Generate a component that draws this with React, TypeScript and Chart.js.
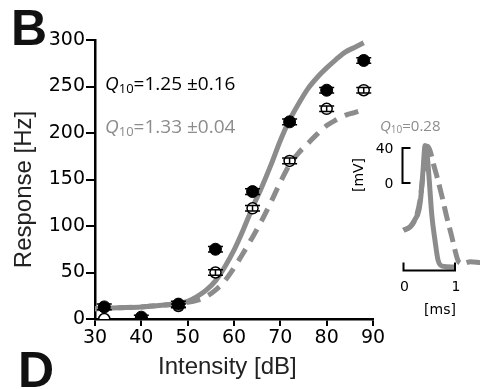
import React, { useEffect, useRef } from "react";
import { Chart, registerables } from "chart.js";

Chart.register(...registerables);

// ---- Main panel data ----
const intensity = [32, 40, 48, 56, 64, 72, 80, 88];
const filledResp = [13, 2, 16, 75, 137, 212, 246, 278];
const filledErr = [3, 2, 3, 3, 3, 3, 3, 3];
const openResp = [0, 0, 14, 50, 119, 170, 226, 246];
const openErr = [2, 2, 2, 3, 3, 3, 3, 3];

const fitX = [30, 35, 40, 45, 48, 50, 52, 54, 56, 58, 60, 62, 64, 66, 68, 70, 72, 74, 76, 78, 80, 82, 84, 86, 88];
const fitSolid = [11, 12, 13, 15, 17, 19, 24, 31, 41, 56, 74, 96, 120, 142, 166, 192, 214, 232, 248, 260, 270, 279, 287, 292, 297];
const fitDashed = [11, 12, 13, 15, 16, 18, 20, 24, 31, 41, 55, 71, 88, 106, 126, 147, 166, 179, 189, 199, 208, 214, 219, 222, 225];

const xTicks = [30, 40, 50, 60, 70, 80, 90];
const yTicks = [0, 50, 100, 150, 200, 250, 300];

const q10Filled = "=1.25 \u00B10.16";
const q10Open = "=1.33 \u00B10.04";
const q10Spike = "=0.28";

// ---- Inset (spike waveform) data ----
const spikeSolidT = [0, 0.13, 0.22, 0.3, 0.34, 0.38, 0.42, 0.45, 0.5, 0.55, 0.61, 0.67, 0.75, 0.98];
const spikeSolidV = [-54, -50, -42, -31, -14, 15, 43, 38, 3, -37, -65, -88, -95, -96];
const spikeDashedT = [0, 0.15, 0.25, 0.32, 0.38, 0.43, 0.47, 0.52, 0.58, 0.66, 0.75, 0.84, 0.94, 1.0, 1.07, 1.15, 1.3, 1.49];
const spikeDashedV = [-54, -49, -38, -20, 10, 38, 42, 36, 22, 5, -16, -39, -62, -77, -90, -92, -90, -91];
const insetVoltTicks = [0, 40];
const insetTimeTicks = [0, 1];

const GRAY = "#8c8c8c";

function drawQ(ctx: CanvasRenderingContext2D, x: number, y: number, rest: string, size: number, color: string) {
  ctx.save();
  ctx.fillStyle = color;
  ctx.textAlign = "left";
  ctx.textBaseline = "alphabetic";
  ctx.font = `italic ${size}px "Open Sans"`;
  ctx.fillText("Q", x, y);
  x += ctx.measureText("Q").width;
  const sub = Math.round(size * 0.66);
  ctx.font = `${sub}px "Open Sans"`;
  ctx.fillText("10", x, y + size * 0.14);
  x += ctx.measureText("10").width;
  ctx.font = `${size}px "Open Sans"`;
  ctx.fillText(rest, x, y);
  ctx.restore();
}

const mainPlugin = {
  id: "mainDecor",
  afterDatasetsDraw(chart: any) {
    const ctx: CanvasRenderingContext2D = chart.ctx;
    const xs = chart.scales.x;
    const ys = chart.scales.y;
    ctx.save();
    ctx.strokeStyle = "#000";
    ctx.lineWidth = 1.5;
    const bars = (vals: number[], errs: number[]) => {
      intensity.forEach((xv, i) => {
        const px = xs.getPixelForValue(xv);
        const y1 = ys.getPixelForValue(vals[i] - errs[i]);
        const y2 = ys.getPixelForValue(vals[i] + errs[i]);
        if (y1 > chart.chartArea.bottom) return;
        ctx.beginPath();
        ctx.moveTo(px, y1);
        ctx.lineTo(px, y2);
        ctx.moveTo(px - 7.5, y1);
        ctx.lineTo(px + 7.5, y1);
        ctx.moveTo(px - 7.5, y2);
        ctx.lineTo(px + 7.5, y2);
        ctx.stroke();
      });
    };
    bars(filledResp, filledErr);
    bars(openResp, openErr);
    ctx.restore();
  },
  afterDraw(chart: any) {
    const ctx: CanvasRenderingContext2D = chart.ctx;
    ctx.save();
    ctx.fillStyle = "#111";
    ctx.font = 'bold 50px "Liberation Sans"';
    ctx.textBaseline = "alphabetic";
    ctx.textAlign = "left";
    ctx.fillText("B", 11, 45);
    ctx.fillText("D", 18, 387);
    ctx.restore();
    drawQ(ctx, 105, 90, q10Filled, 19, "#000");
    drawQ(ctx, 105, 133, q10Open, 19, GRAY);
  },
};

const insetPlugin = {
  id: "insetDecor",
  afterDraw(chart: any) {
    const ctx: CanvasRenderingContext2D = chart.ctx;
    const xs = chart.scales.x;
    const ys = chart.scales.y;
    ctx.save();
    ctx.strokeStyle = "#000";
    ctx.lineWidth = 2;
    // voltage scale bar
    const bx = xs.getPixelForValue(0) - 1;
    const vTop = ys.getPixelForValue(insetVoltTicks[1]);
    const vBot = ys.getPixelForValue(insetVoltTicks[0]);
    ctx.beginPath();
    ctx.moveTo(bx + 8, vTop);
    ctx.lineTo(bx, vTop);
    ctx.lineTo(bx, vBot);
    ctx.lineTo(bx + 8, vBot);
    ctx.stroke();
    // time scale bar
    const by = ys.getPixelForValue(ys.min);
    const t0 = xs.getPixelForValue(insetTimeTicks[0]);
    const t1 = xs.getPixelForValue(insetTimeTicks[1]);
    ctx.beginPath();
    ctx.moveTo(t0, by - 8);
    ctx.lineTo(t0, by);
    ctx.lineTo(t1, by);
    ctx.lineTo(t1, by - 8);
    ctx.stroke();
    // labels
    ctx.fillStyle = "#000";
    ctx.font = '14px "DejaVu Sans"';
    ctx.textBaseline = "middle";
    ctx.textAlign = "right";
    insetVoltTicks.forEach((v) => ctx.fillText(String(v), bx - 9, ys.getPixelForValue(v) + 1));
    ctx.textAlign = "center";
    insetTimeTicks.forEach((t) => ctx.fillText(String(t), xs.getPixelForValue(t) + 1, by + 17));
    ctx.fillText("[ms]", 90, 200);
    ctx.save();
    ctx.translate(9, 65);
    ctx.rotate(-Math.PI / 2);
    ctx.fillText("[mV]", 0, 0);
    ctx.restore();
    ctx.restore();
    drawQ(ctx, 30, 21, q10Spike, 15, GRAY);
  },
};

export default function App() {
  const mainRef = useRef<HTMLCanvasElement>(null);
  const insetRef = useRef<HTMLCanvasElement>(null);

  useEffect(() => {
    document.body.style.margin = "0";
    const tickFont = { family: "DejaVu Sans", size: 19 };
    const titleFont = { family: "Liberation Sans", size: 24 };
    const main = new Chart(mainRef.current as HTMLCanvasElement, {
      type: "scatter",
      data: {
        datasets: [
          {
            label: "filled",
            data: intensity.map((x, i) => ({ x, y: filledResp[i] })),
            pointRadius: 6,
            pointBackgroundColor: "#000",
            pointBorderColor: "#000",
            pointBorderWidth: 1,
            order: 0,
          },
          {
            label: "open",
            data: intensity.map((x, i) => ({ x, y: openResp[i] })),
            pointRadius: 5.5,
            pointBackgroundColor: "#fff",
            pointBorderColor: "#000",
            pointBorderWidth: 1.5,
            order: 1,
          },
          {
            label: "fit solid",
            data: fitX.map((x, i) => ({ x, y: fitSolid[i] })),
            showLine: true,
            pointRadius: 0,
            borderColor: GRAY,
            borderWidth: 5,
            cubicInterpolationMode: "monotone",
            order: 2,
          },
          {
            label: "fit dashed",
            data: fitX.map((x, i) => ({ x, y: fitDashed[i] })),
            showLine: true,
            pointRadius: 0,
            borderColor: GRAY,
            borderWidth: 5,
            borderDash: [14, 9],
            cubicInterpolationMode: "monotone",
            order: 3,
          },
        ],
      },
      options: {
        responsive: false,
        animation: false,
        layout: { padding: { left: 0, top: 40, right: 107, bottom: 0 } },
        plugins: { legend: { display: false }, tooltip: { enabled: false } },
        scales: {
          x: {
            type: "linear",
            min: 30,
            max: 90,
            afterBuildTicks: (s: any) => {
              s.ticks = xTicks.map((v) => ({ value: v }));
            },
            afterFit: (s: any) => {
              s.height = 70;
            },
            grid: { display: true, drawOnChartArea: false, drawTicks: true, tickLength: 7, color: "#000", lineWidth: 2 },
            border: { display: true, color: "#000", width: 2.5 },
            ticks: { color: "#000", font: tickFont, padding: 1, maxRotation: 0, autoSkip: false },
            title: { display: true, text: "Intensity [dB]  ", color: "#222", font: titleFont, padding: { top: 0, bottom: 7 } },
          },
          y: {
            type: "linear",
            min: 0,
            max: 300,
            afterBuildTicks: (s: any) => {
              s.ticks = yTicks.map((v) => ({ value: v }));
            },
            afterFit: (s: any) => {
              s.width = 95;
            },
            grid: { display: true, drawOnChartArea: false, drawTicks: true, tickLength: 9, color: "#000", lineWidth: 2 },
            border: { display: true, color: "#000", width: 2.5 },
            ticks: { color: "#000", font: tickFont, padding: 1, autoSkip: false },
            title: { display: true, text: "Response [Hz]   ", color: "#222", font: titleFont, padding: { top: 10, bottom: 0 } },
          },
        },
      },
      plugins: [mainPlugin],
    } as any);

    const inset = new Chart(insetRef.current as HTMLCanvasElement, {
      type: "scatter",
      data: {
        datasets: [
          {
            label: "spike solid",
            data: spikeSolidT.map((x, i) => ({ x, y: spikeSolidV[i] })),
            showLine: true,
            pointRadius: 0,
            borderColor: GRAY,
            borderWidth: 5,
            cubicInterpolationMode: "monotone",
            order: 0,
          },
          {
            label: "spike dashed",
            data: spikeDashedT.map((x, i) => ({ x, y: spikeDashedV[i] })),
            showLine: true,
            pointRadius: 0,
            borderColor: GRAY,
            borderWidth: 5,
            borderDash: [15, 7],
            cubicInterpolationMode: "monotone",
            order: 1,
          },
        ],
      },
      options: {
        responsive: false,
        animation: false,
        clip: false,
        layout: { padding: { left: 53.5, top: 29.25, right: 0, bottom: 54.5 } },
        plugins: { legend: { display: false }, tooltip: { enabled: false } },
        scales: {
          x: { type: "linear", min: 0, max: 1.485, display: false },
          y: { type: "linear", min: -100, max: 50, display: false },
        },
      },
      plugins: [insetPlugin],
    } as any);

    return () => {
      main.destroy();
      inset.destroy();
    };
  }, []);

  return (
    <div style={{ position: "relative", width: 480, height: 389, background: "#fff", overflow: "hidden" }}>
      <canvas ref={mainRef} width={480} height={389} style={{ position: "absolute", left: 0, top: 0 }} />
      <canvas ref={insetRef} width={130} height={215} style={{ position: "absolute", left: 350, top: 110 }} />
    </div>
  );
}
